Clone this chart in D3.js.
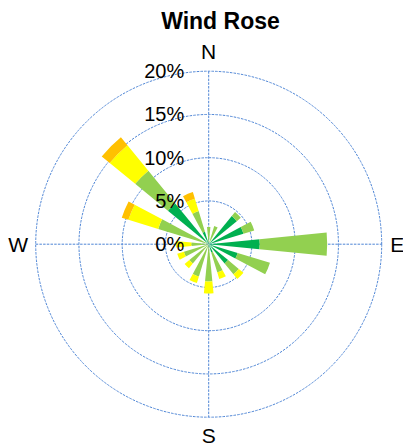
<!DOCTYPE html>
<html>
<head>
<meta charset="utf-8">
<script src="https://cdn.jsdelivr.net/npm/d3@7"></script>
<style>
  html, body { margin: 0; padding: 0; background: #fff; }
  svg { display: block; font-family: "Liberation Sans", Arial, sans-serif; }
</style>
</head>
<body>
<svg id="chart" width="403" height="446"></svg>
<script>
// Compass sectors, clockwise from north
const directions = ["N","NNE","NE","ENE","E","ESE","SE","SSE","S","SSW","SW","WSW","W","WNW","NW","NNW"];

// Frequency (%) per speed class, one value per direction
const speedClasses = ["0-2 m/s", "2-4 m/s", "4-6 m/s", "6+ m/s"];
const classA = [0.0, 0.0, 4.2, 4.2, 5.9, 3.5, 2.9, 1.0, 0.0, 0.0, 0.0, 0.0, 0.0, 0.0, 6.1, 1.5];
const classB = [2.0, 2.2, 0.6, 1.3, 7.8, 3.9, 1.6, 2.4, 4.3, 3.9, 2.9, 3.0, 2.0, 6.1, 4.9, 2.5];
const classC = [0.0, 0.0, 0.0, 0.0, 0.0, 0.0, 0.7, 0.8, 1.4, 0.8, 0.7, 0.8, 1.8, 3.6, 3.8, 1.5];
const classD = [0.0, 0.0, 0.0, 0.0, 0.0, 0.0, 0.0, 0.0, 0.0, 0.0, 0.0, 0.0, 0.0, 0.8, 1.2, 0.8];
const classColors = ["#00B050", "#92D050", "#FFFF00", "#FFC000"];

// Radial ticks
const radialTicks = [0, 5, 10, 15, 20];
const tickLabels = ["0%", "5%", "10%", "15%", "20%"];
const compassLabels = ["N", "E", "S", "W"];

const svg = d3.select("#chart");
const cx = 208.7, cy = 244.2, R = 173;

const r = d3.scaleLinear().domain([0, 20]).range([0, R]);
const angle = d3.scaleBand()
  .domain(directions)
  .range([0, 2 * Math.PI]);
const sector = angle.bandwidth();
const barWidth = sector * 0.5;

const g = svg.append("g").attr("transform", `translate(${cx},${cy})`);

// Title
svg.append("text")
  .attr("x", 220.5).attr("y", 29)
  .attr("text-anchor", "middle")
  .attr("font-size", 23).attr("font-weight", "bold")
  .attr("fill", "#000")
  .text("Wind Rose");

const gridColor = "#4F86D6";

// Grid circles
g.append("g").selectAll("circle")
  .data(radialTicks.filter(d => d > 0))
  .join("circle")
  .attr("r", d => r(d))
  .attr("fill", "none")
  .attr("stroke", gridColor)
  .attr("stroke-width", 1)
  .attr("stroke-dasharray", "2.5,1.2");

// Cross axes
g.append("line")
  .attr("x1", -r(20)).attr("x2", r(20)).attr("y1", 0).attr("y2", 0)
  .attr("stroke", gridColor).attr("stroke-width", 1).attr("stroke-dasharray", "2.5,1.2");
g.append("line")
  .attr("y1", -r(20)).attr("y2", r(20)).attr("x1", 0).attr("x2", 0)
  .attr("stroke", gridColor).attr("stroke-width", 1).attr("stroke-dasharray", "2.5,1.2");

// Stacked wedges
const rows = directions.map((d, i) => ({
  dir: d,
  [speedClasses[0]]: classA[i],
  [speedClasses[1]]: classB[i],
  [speedClasses[2]]: classC[i],
  [speedClasses[3]]: classD[i]
}));
const stacked = d3.stack().keys(speedClasses)(rows);

const arc = d3.arc()
  .innerRadius(d => r(d[0]))
  .outerRadius(d => r(d[1]))
  .startAngle(d => angle(d.data.dir) + sector / 2 - barWidth / 2 - sector / 2)
  .endAngle(d => angle(d.data.dir) + sector / 2 + barWidth / 2 - sector / 2);

g.append("g").selectAll("g")
  .data(stacked)
  .join("g")
  .attr("fill", (d, i) => classColors[i])
  .selectAll("path")
  .data(d => d.filter(s => s[1] - s[0] > 0))
  .join("path")
  .attr("d", arc);

// Radial tick labels
g.append("g").selectAll("text")
  .data(radialTicks)
  .join("text")
  .attr("x", -24.5)
  .attr("y", d => -r(d) + 7)
  .attr("text-anchor", "end")
  .attr("font-size", 20)
  .attr("fill", "#000")
  .text((d, i) => tickLabels[i]);

// Compass labels
const compassPos = {
  N: [0, -r(20) - 12],
  E: [r(20) + 15.5, 7.5],
  S: [0, r(20) + 26],
  W: [-r(20) - 17.5, 7.5]
};
g.append("g").selectAll("text")
  .data(compassLabels)
  .join("text")
  .attr("x", d => compassPos[d][0])
  .attr("y", d => compassPos[d][1])
  .attr("text-anchor", "middle")
  .attr("font-size", 21)
  .attr("fill", "#000")
  .text(d => d);
</script>
</body>
</html>
